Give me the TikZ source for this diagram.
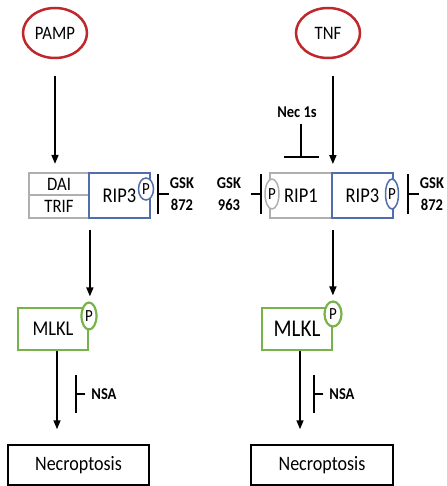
\documentclass[tikz,border=0pt]{standalone}
\usepackage{fontspec}
\setmainfont{Carlito}[FakeStretch=0.88]
\usetikzlibrary{shapes.geometric,arrows.meta}
\definecolor{stimred}{RGB}{190,40,45}
\definecolor{ripblue}{RGB}{80,110,170}
\definecolor{adgray}{RGB}{175,175,175}
\definecolor{mlklgreen}{RGB}{120,178,75}

\begin{document}
\begin{tikzpicture}[x=1pt,y=-1pt,
  stim/.style={ellipse,draw=stimred,line width=2.5pt,minimum width=64pt,minimum height=50pt,inner sep=0pt,font=\fontsize{19}{21}\selectfont},
  kin/.style={rectangle,draw,line width=1.8pt,minimum height=45pt,inner sep=0pt,font=\fontsize{21}{23}\selectfont},
  adap/.style={rectangle,draw=adgray,line width=1.8pt,minimum width=60pt,minimum height=22.5pt,inner sep=0pt,font=\fontsize{19}{21}\selectfont},
  phos/.style={ellipse,draw,fill=white,line width=1.5pt,inner sep=0pt,font=\fontsize{17}{19}\selectfont},
  mlkl/.style={rectangle,draw=mlklgreen,line width=2pt,minimum width=70pt,minimum height=42pt,inner sep=0pt},
  fate/.style={rectangle,draw,line width=1.5pt,minimum height=40pt,inner sep=0pt,font=\fontsize{20.5}{22}\selectfont},
  drug/.style={font=\bfseries\fontsize{16.5}{22}\selectfont,align=center,inner sep=1pt},
  arr/.style={line width=1.6pt,-{Triangle[length=9pt,width=7pt]}},
  inh/.style={line width=1.6pt,-{Bar[width=#1]}},
  inh/.default=40pt]
  \useasboundingbox (0,0) rectangle (446,486);

  \node[stim] (pamp) at (55,33) {PAMP};
  \node[stim] (tnf) at (328,33) {TNF};

  \node[adap] (dai) at (59,184) {DAI};
  \node[adap] (trif) at (59,206.5) {TRIF};
  \node[kin,draw=ripblue,minimum width=61pt] (ripA) at (119.5,195.5) {RIP3};
  \node[phos,draw=ripblue,minimum width=15pt,minimum height=22pt] (pA) at (146,189) {P};
  \node[drug] (gskA) at (182,194) {GSK\\872};
  \coordinate (barA) at (157,194);

  \node[kin,draw=adgray,minimum width=62pt] (rip1) at (301,195.5) {RIP1};
  \node[kin,draw=ripblue,minimum width=61pt] (ripB) at (362.5,195.5) {RIP3};
  \node[phos,draw=adgray,minimum width=14pt,minimum height=30pt] (p1) at (272,194) {P};
  \node[phos,draw=ripblue,minimum width=13pt,minimum height=30pt] (p3) at (392,194) {P};
  \node[drug] (nec) at (297,112) {Nec 1s};
  \coordinate (barN) at (301,158);
  \node[drug] (gskL) at (229,194) {GSK\\963};
  \coordinate (barL) at (262,194);
  \node[drug] (gskR) at (432,194) {GSK\\872};
  \coordinate (barR) at (407,194);

  \node[mlkl,font=\fontsize{21}{23}\selectfont] (mlklA) at (53,329) {MLKL};
  \node[phos,draw=mlklgreen,line width=2.2pt,minimum width=15pt,minimum height=27pt] (pmA) at (89,316) {P};
  \node[mlkl,font=\fontsize{24}{26}\selectfont] (mlklB) at (297,329) {MLKL};
  \node[phos,draw=mlklgreen,line width=2.2pt,minimum width=17pt,minimum height=25pt] (pmB) at (333,314) {P};

  \node[drug] (nsaA) at (104,394) {NSA};
  \coordinate (barNA) at (75,394);
  \node[drug] (nsaB) at (342,394) {NSA};
  \coordinate (barNB) at (313,394);

  \node[fate,minimum width=141pt] (necA) at (78.5,465) {Necroptosis};
  \node[fate,minimum width=142pt] (necB) at (322,465) {Necroptosis};

  \draw[arr,shorten <=17pt,shorten >=8pt] (pamp.south) -- (pamp.south |- dai.north);
  \draw[arr,shorten <=17pt,shorten >=8pt] (tnf.south -| rip1.east) -- (rip1.north east);
  \draw[inh] (gskA.west) -- (gskA.west -| barA);
  \draw[inh=35pt,shorten <=5pt] (nec.south -| barN) -- (barN);
  \draw[inh,shorten <=9pt] (gskL.east) -- (gskL.east -| barL);
  \draw[inh] (gskR.west) -- (gskR.west -| barR);
  \draw[arr,shorten <=11pt,shorten >=5pt] (trif.south east) -- (trif.south east |- pmA.north);
  \draw[arr,shorten <=11pt,shorten >=5pt] (rip1.south east) -- (rip1.south east |- pmB.north);
  \draw[arr,shorten >=15pt] ([xshift=4pt]mlklA.south) -- ([xshift=4pt]mlklA.south |- necA.north);
  \draw[arr,shorten >=15pt] ([xshift=3pt]mlklB.south) -- ([xshift=3pt]mlklB.south |- necB.north);
  \draw[inh=38pt,shorten <=5pt] (nsaA.west) -- (nsaA.west -| barNA);
  \draw[inh=38pt,shorten <=5pt] (nsaB.west) -- (nsaB.west -| barNB);
\end{tikzpicture}
\end{document}
